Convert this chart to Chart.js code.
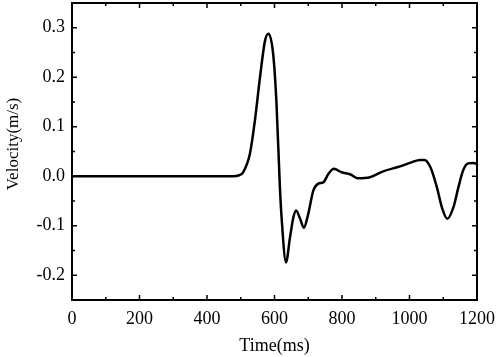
<!DOCTYPE html>
<html lang="en">
<head>
    <meta charset="UTF-8">
    <title>Velocity</title>
    <style>
        html, body { margin: 0; padding: 0; background: #fff; }
        #wrap { width: 498px; height: 357px; }
    </style>
</head>
<body>
    <div id="wrap"><canvas id="myChart01" width="498" height="357"></canvas></div>
    <script src="https://cdn.jsdelivr.net/npm/chart.js"></script>
    <script>
        // 時間 (ms)
        var timeMs = [0, 300, 478, 495, 507, 527, 542, 557, 572, 582, 596, 606, 616, 621, 634, 646, 656, 664, 676, 687, 700, 715, 730, 745, 760, 776, 799, 824, 846, 883, 922, 972, 1006, 1031, 1045, 1062, 1081, 1096, 1112, 1130, 1145, 1159, 1174, 1189, 1200];
        // 速度 (m/s)
        var velocity = [0, 0, 0, 0.002, 0.008, 0.045, 0.113, 0.2, 0.274, 0.288, 0.247, 0.146, -0.022, -0.083, -0.174, -0.123, -0.083, -0.069, -0.086, -0.104, -0.076, -0.029, -0.015, -0.012, 0.005, 0.015, 0.008, 0.004, -0.004, -0.002, 0.01, 0.02, 0.028, 0.033, 0.033, 0.018, -0.022, -0.063, -0.086, -0.063, -0.022, 0.012, 0.026, 0.027, 0.025];
        var xTicks = [0, 200, 400, 600, 800, 1000, 1200];
        var yTicks = [-0.2, -0.1, 0.0, 0.1, 0.2, 0.3];
        var xMinor = [100, 300, 500, 700, 900, 1100];
        var yMinor = [-0.15, -0.05, 0.05, 0.15, 0.25];
        var yTitle = 'Velocity(m/s)';

        var points = timeMs.map(function (t, i) { return { x: t, y: velocity[i] }; });
        var serif = '"Liberation Serif", "DejaVu Serif", serif';

        // 外框、向內刻度、y軸標題
        var framePlugin = {
            id: 'frame',
            afterDraw: function (chart) {
                var ctx = chart.ctx;
                var a = chart.chartArea;
                var xs = chart.scales.x, ys = chart.scales.y;
                ctx.save();
                ctx.strokeStyle = '#000';
                ctx.lineWidth = 2;
                ctx.strokeRect(a.left, a.top, a.right - a.left, a.bottom - a.top);
                ctx.lineWidth = 1.5;
                ctx.beginPath();
                function xt(v, len) {
                    var p = xs.getPixelForValue(v);
                    ctx.moveTo(p, a.bottom); ctx.lineTo(p, a.bottom - len);
                    ctx.moveTo(p, a.top); ctx.lineTo(p, a.top + len);
                }
                function yt(v, len) {
                    var p = ys.getPixelForValue(v);
                    ctx.moveTo(a.left, p); ctx.lineTo(a.left + len, p);
                    ctx.moveTo(a.right, p); ctx.lineTo(a.right - len, p);
                }
                xTicks.forEach(function (v) { xt(v, 5); });
                xMinor.forEach(function (v) { xt(v, 3); });
                yTicks.forEach(function (v) { yt(v, 5); });
                yMinor.forEach(function (v) { yt(v, 3); });
                ctx.stroke();

                ctx.translate(14, 144);
                ctx.rotate(-Math.PI / 2);
                ctx.fillStyle = '#000';
                ctx.font = '17px ' + serif;
                ctx.textAlign = 'center';
                ctx.textBaseline = 'middle';
                ctx.fillText(yTitle, 0, 0);
                ctx.restore();
            }
        };

        var ctx01 = document.getElementById('myChart01');
        var chart01 = new Chart(ctx01, {
            type: 'line',
            data: {
                datasets: [{
                    data: points,
                    borderColor: '#000',
                    borderWidth: 2.5,
                    pointRadius: 0,
                    cubicInterpolationMode: 'monotone',
                    fill: false
                }]
            },
            options: {
                responsive: false,
                animation: false,
                layout: { padding: { top: 3, right: 21, left: 0, bottom: 0 } },
                plugins: { legend: { display: false }, tooltip: { enabled: false } },
                scales: {
                    x: {
                        type: 'linear',
                        min: 0,
                        max: 1200,
                        afterBuildTicks: function (s) { s.ticks = xTicks.map(function (v) { return { value: v }; }); },
                        afterFit: function (s) { s.height = 57; s.paddingLeft = 0; s.paddingRight = 0; },
                        grid: { display: false, drawTicks: false },
                        border: { display: false },
                        ticks: {
                            color: '#000',
                            padding: 8,
                            maxRotation: 0,
                            font: { family: serif, size: 18 },
                            callback: function (v) { return String(v); }
                        },
                        title: {
                            display: true,
                            text: 'Time(ms)',
                            color: '#000',
                            padding: { top: 4, bottom: 0 },
                            font: { family: serif, size: 18 }
                        }
                    },
                    y: {
                        type: 'linear',
                        min: -0.25,
                        max: 0.35,
                        afterBuildTicks: function (s) { s.ticks = yTicks.map(function (v) { return { value: v }; }); },
                        afterFit: function (s) { s.width = 72; s.paddingTop = 0; s.paddingBottom = 0; },
                        grid: { display: false, drawTicks: false },
                        border: { display: false },
                        ticks: {
                            color: '#000',
                            padding: 7,
                            font: { family: serif, size: 18 },
                            callback: function (v) { return v.toFixed(1); }
                        }
                    }
                }
            },
            plugins: [framePlugin]
        });
    </script>
</body>
</html>
